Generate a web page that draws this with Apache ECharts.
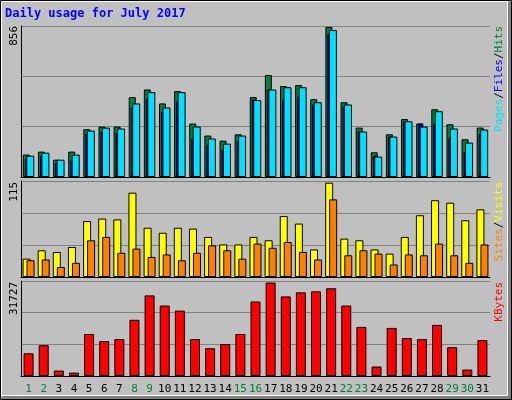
<!DOCTYPE html>
<html><head><meta charset="utf-8">
<script src="https://cdn.jsdelivr.net/npm/echarts@6/dist/echarts.min.js"></script>
<style>html,body{margin:0;padding:0;background:#c0c0c0}#c{width:512px;height:400px}</style>
</head><body><div id="c"></div>
<script>
const days=['1','2','3','4','5','6','7','8','9','10','11','12','13','14','15','16','17','18','19','20','21','22','23','24','25','26','27','28','29','30','31'];
const weekend=['1','2','8','9','15','16','22','23','29','30'];
const hits=[127,144,98,144,271,286,286,453,496,417,487,303,235,206,242,453,578,515,521,441,850,424,280,140,242,328,303,384,299,214,280];
const files=[121,138,98,127,263,280,275,417,481,394,481,286,218,189,235,436,496,509,509,424,833,411,258,116,229,316,286,373,275,195,269];
const pages=[104,121,82,93,246,258,252,394,445,371,430,218,184,155,206,439,496,439,456,411,811,400,258,121,229,314,303,303,223,144,246];
const visits=[22,32,30,36,67,70,69,101,59,53,59,58,48,39,39,48,44,73,64,33,113,46,44,33,28,48,74,92,89,68,81];
const sites=[20,21,12,17,44,48,29,34,24,27,20,29,38,32,22,40,35,42,30,21,93,26,32,28,15,27,26,40,26,17,39];
const kbytes=[7578,10292,1810,1131,14024,11649,12328,18775,26918,23525,21828,12328,9274,10631,14024,24882,31200,26579,27936,28275,29293,23525,16400,3167,16060,12667,12328,17078,9614,2149,11989];
const maxTop=856,maxMid=115,maxBot=31727;
const mono='DejaVu Sans Mono';
const grids=[{left:21,right:22,top:26,height:151},{left:21,right:22,top:181,height:96},{left:21,right:22,top:281,height:95}];
const xAxes=grids.map((g,i)=>({gridIndex:i,type:'category',data:days,axisTick:{show:false},
  axisLine:{show:true,lineStyle:{color:'#000',width:1}},
  axisLabel:{show:i===2,interval:0,margin:8,fontFamily:mono,fontSize:11,
    formatter:v=>weekend.includes(v)?'{g|'+v+'}':'{k|'+v+'}',
    rich:{g:{color:'#008040',fontFamily:mono,fontSize:11},k:{color:'#000',fontFamily:mono,fontSize:11}}}}));
const mkY=(i,max)=>({gridIndex:i,type:'value',min:0,max:max,interval:max/3,axisLabel:{show:false},axisTick:{show:false},
  axisLine:{show:true,lineStyle:{color:'#000'}},splitLine:{show:true,lineStyle:{color:'#808080',width:1}}});
const bs={borderColor:'#000',borderWidth:1};
const ch=echarts.init(document.getElementById('c'));
ch.setOption({animation:false,backgroundColor:'#c0c0c0',grid:grids,xAxis:xAxes,
 yAxis:[mkY(0,maxTop),mkY(1,maxMid),mkY(2,maxBot)],
 series:[
  {type:'bar',xAxisIndex:0,yAxisIndex:0,data:hits,barWidth:7,barGap:'-71%',itemStyle:{color:'#008040',...bs}},
  {type:'bar',xAxisIndex:0,yAxisIndex:0,data:pages,barWidth:5,barGap:'-71%',itemStyle:{color:'#0000ff',...bs}},
  {type:'bar',xAxisIndex:0,yAxisIndex:0,data:files,barWidth:8,barGap:'-71%',itemStyle:{color:'#00e0ff',...bs}},
  {type:'bar',xAxisIndex:1,yAxisIndex:1,data:visits,barWidth:8,barGap:'-50%',itemStyle:{color:'#ffff00',...bs}},
  {type:'bar',xAxisIndex:1,yAxisIndex:1,data:sites,barWidth:8,barGap:'-50%',itemStyle:{color:'#ff8000',...bs}},
  {type:'bar',xAxisIndex:2,yAxisIndex:2,data:kbytes,barWidth:10,itemStyle:{color:'#ff0000',...bs}}
 ],
 graphic:[
  {type:'rect',shape:{x:0.5,y:0.5,width:511,height:399},style:{fill:'none',stroke:'#000',lineWidth:1},z:-1},
  {type:'rect',shape:{x:1.5,y:1.5,width:506,height:394},style:{fill:'none',stroke:'#fff',lineWidth:1},z:-1},
  {type:'rect',shape:{x:508,y:2,width:3,height:397},style:{fill:'#808080'}},
  {type:'rect',shape:{x:2,y:396,width:509,height:3},style:{fill:'#808080'}},
  {type:'text',left:5,top:8,style:{text:'Daily usage for July 2017',fill:'#0000ff',font:'bold 12px '+mono}},
  {type:'text',x:9,y:26,rotation:Math.PI/2,style:{text:String(maxTop),fill:'#000',font:'11px '+mono,align:'right',verticalAlign:'top'}},
  {type:'text',x:9,y:182,rotation:Math.PI/2,style:{text:String(maxMid),fill:'#000',font:'11px '+mono,align:'right',verticalAlign:'top'}},
  {type:'text',x:9,y:282,rotation:Math.PI/2,style:{text:String(maxBot),fill:'#000',font:'11px '+mono,align:'right',verticalAlign:'top'}},
  {type:'text',x:494,y:26,rotation:Math.PI/2,style:{text:'{p|Pages}{s|/}{f|Files}{s|/}{h|Hits}',align:'right',verticalAlign:'top',font:'11px '+mono,
    rich:{p:{fill:'#00e0ff',font:'11px '+mono},s:{fill:'#000',font:'11px '+mono},f:{fill:'#0000ff',font:'11px '+mono},h:{fill:'#008040',font:'11px '+mono}}}},
  {type:'text',x:494,y:182,rotation:Math.PI/2,style:{text:'{a|Sites}{s|/}{b|Visits}',align:'right',verticalAlign:'top',font:'11px '+mono,
    rich:{a:{fill:'#ff8000',font:'11px '+mono},s:{fill:'#000',font:'11px '+mono},b:{fill:'#ffff00',font:'11px '+mono}}}},
  {type:'text',x:494,y:282,rotation:Math.PI/2,style:{text:'KBytes',align:'right',verticalAlign:'top',fill:'#ff0000',font:'11px '+mono}}
 ]});
</script></body></html>
